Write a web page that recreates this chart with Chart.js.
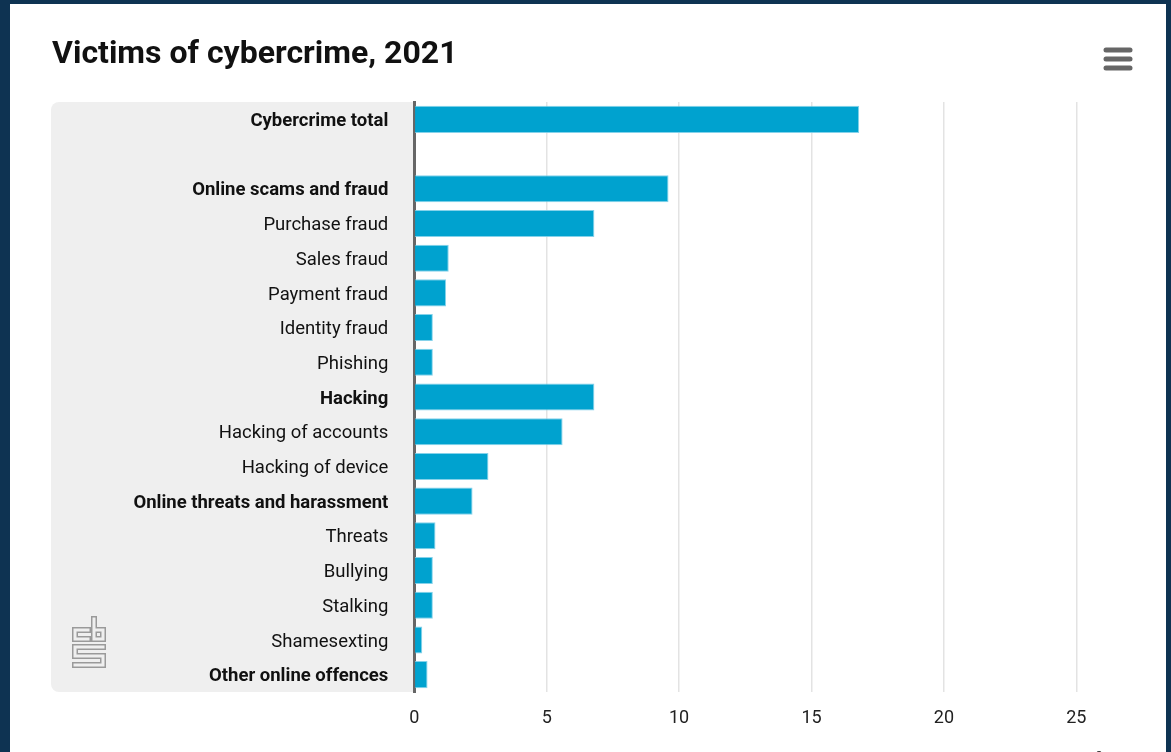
<!DOCTYPE html>
<html>
<head>
<meta charset="utf-8">
<script src="https://cdn.jsdelivr.net/npm/chart.js@4.4.1/dist/chart.umd.min.js"></script>
<style>
  html, body { margin: 0; padding: 0; background: #0e3352; overflow: hidden; }
  #card { position: absolute; left: 10px; top: 4px; width: 1156px; height: 770px; background: #ffffff; }
  #card canvas { display: block; }
</style>
</head>
<body>
<div id="card"><canvas id="chart" width="1156" height="770"></canvas></div>
<script>
// Victims of cybercrime, share of population (%), 2021
const categories = [
  'Cybercrime total',
  '',
  'Online scams and fraud',
  'Purchase fraud',
  'Sales fraud',
  'Payment fraud',
  'Identity fraud',
  'Phishing',
  'Hacking',
  'Hacking of accounts',
  'Hacking of device',
  'Online threats and harassment',
  'Threats',
  'Bullying',
  'Stalking',
  'Shamesexting',
  'Other online offences'
];
const victimShare = [16.8, null, 9.6, 6.8, 1.3, 1.2, 0.7, 0.7, 6.8, 5.6, 2.8, 2.2, 0.8, 0.7, 0.7, 0.3, 0.5];
const headerRows = ['Cybercrime total', 'Online scams and fraud', 'Hacking', 'Online threats and harassment', 'Other online offences'];
const xTicks = [0, 5, 10, 15, 20, 25];
const titleText = 'Victims of cybercrime, 2021';
const unitLabel = '%';

const FONT = 'Roboto, "Noto Sans", sans-serif';

// grey label panel behind the category axis
const panelPlugin = {
  id: 'labelPanel',
  beforeDraw(chart) {
    const { ctx, chartArea } = chart;
    const x0 = 41, y0 = chartArea.top, x1 = chartArea.left, y1 = chartArea.bottom;
    const r = 8;
    ctx.save();
    ctx.fillStyle = '#efefef';
    ctx.beginPath();
    ctx.moveTo(x0 + r, y0);
    ctx.lineTo(x1, y0);
    ctx.lineTo(x1, y1);
    ctx.lineTo(x0 + r, y1);
    ctx.arcTo(x0, y1, x0, y1 - r, r);
    ctx.lineTo(x0, y0 + r);
    ctx.arcTo(x0, y0, x0 + r, y0, r);
    ctx.closePath();
    ctx.fill();

    // cbs logo: outlined strokes
    const paths = [
      [[78, 626], [65, 626], [65, 635], [78, 635]],
      [[84, 615], [84, 635], [93, 635], [93, 626], [84, 626]],
      [[93, 643], [65, 643], [65, 652], [93, 652], [93, 661], [65, 661]]
    ];
    const drawPaths = (w, color) => {
      ctx.lineWidth = w;
      ctx.strokeStyle = color;
      ctx.lineJoin = 'miter';
      ctx.lineCap = 'square';
      paths.forEach(p => {
        ctx.beginPath();
        p.forEach((pt, i) => i ? ctx.lineTo(pt[0], pt[1]) : ctx.moveTo(pt[0], pt[1]));
        ctx.stroke();
      });
    };
    drawPaths(6, '#9a9a9a');
    drawPaths(3, '#efefef');
    ctx.restore();
  },
  afterDraw(chart) {
    const { ctx } = chart;
    ctx.save();
    // context menu icon
    ctx.strokeStyle = '#666666';
    ctx.lineWidth = 5;
    ctx.lineCap = 'round';
    [46, 55, 64].forEach(y => {
      ctx.beginPath();
      ctx.moveTo(1096, y);
      ctx.lineTo(1120, y);
      ctx.stroke();
    });
    // axis unit
    ctx.fillStyle = '#333333';
    ctx.font = '18px ' + FONT;
    ctx.textAlign = 'center';
    ctx.textBaseline = 'middle';
    ctx.fillText(unitLabel, 1092, 755);
    ctx.restore();
  }
};

new Chart(document.getElementById('chart'), {
  type: 'bar',
  data: {
    labels: categories,
    datasets: [{
      data: victimShare,
      backgroundColor: '#00a2cf',
      borderColor: 'rgba(120,205,232,0.9)',
      borderWidth: 1,
      barPercentage: 0.78,
      categoryPercentage: 1
    }]
  },
  options: {
    indexAxis: 'y',
    responsive: false,
    animation: false,
    layout: { padding: { left: 42, right: 89.7, top: 0, bottom: 0 } },
    plugins: {
      legend: { display: false },
      tooltip: { enabled: false },
      title: {
        display: true,
        text: titleText,
        align: 'start',
        color: '#111111',
        font: { family: FONT, size: 32, weight: 'bold' },
        padding: { top: 32, bottom: 27.6 }
      }
    },
    scales: {
      x: {
        type: 'linear',
        min: 0,
        max: 25,
        afterBuildTicks(scale) { scale.ticks = xTicks.map(v => ({ value: v })); },
        afterFit(scale) { scale.height = 82; },
        grid: { color: '#e3e3e3', lineWidth: 1.5, drawTicks: false },
        border: { display: false },
        ticks: {
          padding: 16,
          color: '#222222',
          font: { family: FONT, size: 18 }
        }
      },
      y: {
        afterFit(scale) { scale.width = 362.3; },
        grid: { display: false, drawTicks: false },
        border: { display: true, color: '#666666', width: 3 },
        ticks: {
          padding: 26,
          labelOffset: 2,
          color: '#111111',
          autoSkip: false,
          font: (ctx) => ({
            family: FONT,
            size: 18.5,
            weight: headerRows.includes(categories[ctx.index]) ? 'bold' : 'normal'
          })
        }
      }
    }
  },
  plugins: [panelPlugin]
});
</script>
</body>
</html>
